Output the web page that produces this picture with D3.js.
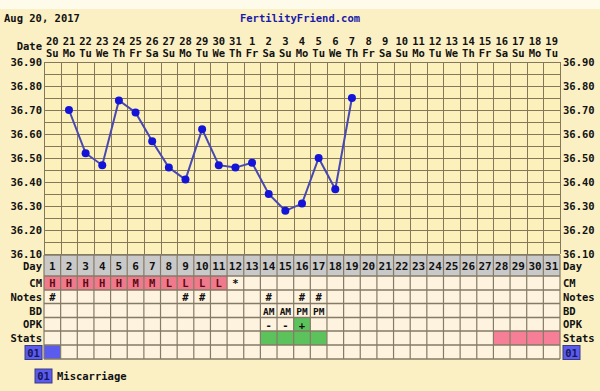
<!DOCTYPE html>
<html><head><meta charset="utf-8">
<script src="https://cdn.jsdelivr.net/npm/d3@7"></script>
<style>
html,body{margin:0;padding:0;background:#FBF0C4;}
svg{display:block;}
text{font-family:"DejaVu Sans Mono",monospace;font-weight:bold;font-size:10.5px;fill:#111;}
</style></head>
<body><svg id="c" width="600" height="391"></svg>
<script>
// ---- data ----
const dayNums = d3.range(1, 32);
const dates = [20,21,22,23,24,25,26,27,28,29,30,31,1,2,3,4,5,6,7,8,9,10,11,12,13,14,15,16,17,18,19];
const weekdays = ["Su","Mo","Tu","We","Th","Fr","Sa","Su","Mo","Tu","We","Th","Fr","Sa","Su","Mo","Tu","We","Th","Fr","Sa","Su","Mo","Tu","We","Th","Fr","Sa","Su","Mo","Tu"];
const temps = [null,36.70,36.52,36.47,36.74,36.69,36.57,36.46,36.41,36.62,36.47,36.46,36.48,36.35,36.28,36.31,36.50,36.37,36.75];
const yTicks = [36.10,36.20,36.30,36.40,36.50,36.60,36.70,36.80,36.90];
const cm = ["H","H","H","H","H","M","M","L","L","L","L","*"];
const cmPink = [1,2,3,4,5,6,7,8,9,10,11];
const notes = [1,9,10,14,16,17];
const bd = {14:"AM",15:"AM",16:"PM",17:"PM"};
const opk = {14:"-",15:"-",16:"+"};
const opkGreen = [16];
const statsGreen = [14,15,16,17];
const statsPink = [28,29,30,31];
const miscarriage = [1];
const rowLabels = ["Day","CM","Notes","BD","OPK","Stats"];

const svg = d3.select("#c");
const L = 44, R = 560, T = 62, B = 254;
const x = d3.scaleBand().domain(dayNums).range([L, R]);
const y = d3.scaleLinear().domain([36.10, 36.90]).range([B, T]);
const cx = d => x(d) + x.bandwidth() / 2;

// top light strip
svg.append("rect").attr("x",0).attr("y",0).attr("width",600).attr("height",9).attr("fill","#FFFBEA");

// header
svg.append("text").attr("x",4).attr("y",22).text("Aug 20, 2017");
svg.append("text").attr("x",300).attr("y",22).attr("text-anchor","middle").style("fill","#1A1AA8").text("FertilityFriend.com");

// date headers
svg.append("text").attr("x",42).attr("y",50).attr("text-anchor","end").text("Date");
svg.selectAll(".dn").data(dayNums).enter().append("text")
  .attr("x", d => cx(d)).attr("y", 45).attr("text-anchor","middle").text(d => dates[d-1]);
svg.selectAll(".wd").data(dayNums).enter().append("text")
  .attr("x", d => cx(d)).attr("y", 57).attr("text-anchor","middle").text(d => weekdays[d-1]);

// plot area
svg.append("rect").attr("x",L).attr("y",T).attr("width",R-L).attr("height",B-T).attr("fill","#FCF1BB");
const gridC = "#85775A";
const hLines = d3.range(0,17).map(i => 36.10 + i*0.05);
svg.selectAll(".hl").data(hLines).enter().append("line")
  .attr("x1",L).attr("x2",R).attr("y1",d=>Math.round(y(d))+0.5).attr("y2",d=>Math.round(y(d))+0.5)
  .attr("stroke",gridC).attr("stroke-width",1);
svg.selectAll(".vl").data(d3.range(1,33)).enter().append("line")
  .attr("x1",d=>Math.round(d<=31?x(d):R)+0.5).attr("x2",d=>Math.round(d<=31?x(d):R)+0.5)
  .attr("y1",T).attr("y2",B).attr("stroke",gridC).attr("stroke-width",1);

// y tick labels
svg.selectAll(".yl").data(yTicks).enter().append("text")
  .attr("x",42).attr("y",d=>y(d)+4).attr("text-anchor","end").text(d=>d.toFixed(2));
svg.selectAll(".yr").data(yTicks).enter().append("text")
  .attr("x",563).attr("y",d=>y(d)+4).text(d=>d.toFixed(2));

// temperature line
const pts = temps.map((t,i)=>({d:i+1,t})).filter(p=>p.t!=null);
svg.append("path").datum(pts)
  .attr("d", d3.line().x(p=>cx(p.d)).y(p=>y(p.t)))
  .attr("fill","none").attr("stroke","#4848B0").attr("stroke-width",2);
svg.selectAll(".pt").data(pts).enter().append("circle")
  .attr("cx",p=>cx(p.d)).attr("cy",p=>y(p.t)).attr("r",4).attr("fill","#1414D8");

// table
const rowTops = [255,276,290,303.5,317.5,331,345,359];
const rowY = i => rowTops[i];
const rowH = i => rowTops[i+1]-rowTops[i];
// cell backgrounds
for (let r=0;r<7;r++){
  svg.selectAll(".cell"+r).data(dayNums).enter().append("rect")
    .attr("x",d=>x(d)).attr("y",rowY(r)).attr("width",x.bandwidth()).attr("height",rowH(r))
    .attr("fill",d=>{
      if (r===0) return "#C9C9C9";
      if (r===1 && cmPink.includes(d)) return "#F07A8C";
      if (r===4 && opkGreen.includes(d)) return "#5CC35C";
      if (r===5 && statsGreen.includes(d)) return "#5CC35C";
      if (r===5 && statsPink.includes(d)) return "#F77E97";
      if (r===6 && miscarriage.includes(d)) return "#5B5BEE";
      return "#FDF3DF";
    });
}
const tabC = "#857A66";
svg.selectAll(".th").data(rowTops).enter().append("line")
  .attr("x1",L).attr("x2",R).attr("y1",d=>d).attr("y2",d=>d)
  .attr("stroke",tabC).attr("stroke-width",1.6);
svg.selectAll(".tv").data(d3.range(1,33)).enter().append("line")
  .attr("x1",d=>(d<=31?x(d):R)).attr("x2",d=>(d<=31?x(d):R))
  .attr("y1",rowTops[0]).attr("y2",rowTops[7]).attr("stroke",tabC).attr("stroke-width",1.2);

// row labels
rowLabels.forEach((lab,i)=>{
  const yy = rowY(i) + rowH(i)/2 + 4;
  svg.append("text").attr("x",42).attr("y",yy).attr("text-anchor","end").text(lab);
  svg.append("text").attr("x",563).attr("y",yy).text(lab);
});
// "01" boxes
function box01(x0,y0){
  svg.append("rect").attr("x",x0).attr("y",y0).attr("width",17).attr("height",14)
    .attr("fill","#5B5BEE").attr("stroke","#3A3A80").attr("stroke-width",1);
  svg.append("text").attr("x",x0+8.5).attr("y",y0+11).attr("text-anchor","middle").style("fill","#15155A").text("01");
}
box01(25,345.5);
box01(563,345.5);
box01(35,369);
svg.append("text").attr("x",57).attr("y",380).text("Miscarriage");

// row contents
svg.selectAll(".dayn").data(dayNums).enter().append("text")
  .attr("x",d=>cx(d)).attr("y",rowY(0)+15).attr("text-anchor","middle").style("font-size","11px").text(d=>d);
svg.selectAll(".cm").data(cm).enter().append("text")
  .attr("x",(c,i)=>cx(i+1)).attr("y",rowY(1)+11).attr("text-anchor","middle")
  .style("fill",c=>c==="*"?"#111":"#5A0A14").text(c=>c);
svg.selectAll(".nt").data(notes).enter().append("text")
  .attr("x",d=>cx(d)).attr("y",rowY(2)+11).attr("text-anchor","middle").text("#");
svg.selectAll(".bd").data(Object.keys(bd)).enter().append("text")
  .attr("x",d=>cx(+d)).attr("y",rowY(3)+11).attr("text-anchor","middle").style("font-size","9.5px").text(d=>bd[d]);
svg.selectAll(".opk").data(Object.keys(opk)).enter().append("text")
  .attr("x",d=>cx(+d)).attr("y",rowY(4)+11).attr("text-anchor","middle").text(d=>opk[d]);
</script></body></html>
